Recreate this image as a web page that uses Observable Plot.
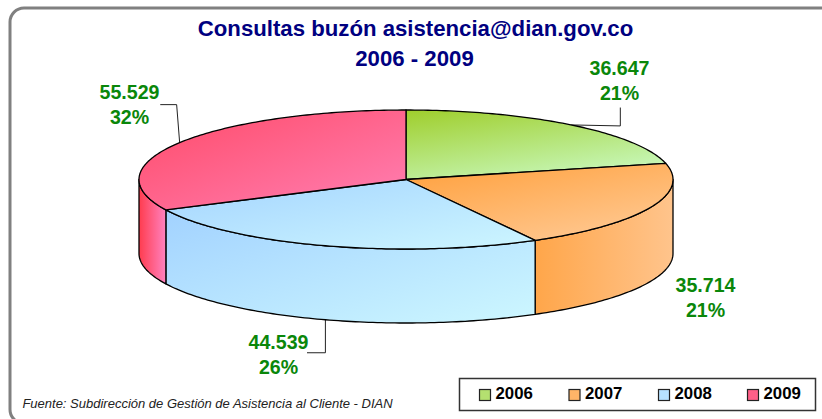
<!DOCTYPE html>
<html><head><meta charset="utf-8">
<script src="https://cdn.jsdelivr.net/npm/d3@7"></script>
<script src="https://cdn.jsdelivr.net/npm/@observablehq/plot@0.6"></script>
<style>html,body{margin:0;padding:0;background:#fff;overflow:hidden}svg{display:block}</style>
</head><body><div id="chart"></div>
<script>
const years = ["2006","2007","2008","2009"];
const consultas = [36647,35714,44539,55529];
const valueLabels = ["36.647","35.714","44.539","55.529"];
const pctLabels = ["21%","21%","26%","32%"];
const titleLines = ["Consultas buzón asistencia@dian.gov.co","2006 - 2009"];
const fuente = "Fuente: Subdirección de Gestión de Asistencia al Cliente - DIAN";

const W=822,H=419,cx=405.5,cy=179,rx=267,ry=69.5,depthPx=74;
const depth=depthPx/ry;
const ARIAL='"Liberation Sans",Arial,sans-serif';

const pie=d3.pie().sort(null)(consultas);
const arc=(a0,a1,dy=0)=>{const n=Math.max(2,Math.ceil((a1-a0)*60)),p=[];
  for(let i=0;i<=n;i++){const t=a0+(a1-a0)*i/n;p.push({x:Math.sin(t),y:-Math.cos(t)+dy});}return p;};
const topFace=s=>[{x:0,y:0},...arc(s.startAngle,s.endAngle)];
const sideFace=s=>{const a0=Math.max(s.startAngle,Math.PI/2),a1=Math.min(s.endAngle,3*Math.PI/2);
  if(a1<=a0)return null;return [...arc(a0,a1),...arc(a0,a1,depth).reverse()];};

const grads={
 t0:["#9fce2c","#c6f6b4",0.55],t1:["#ff9f3a","#ffc78f",0.7],t2:["#a4d4ff","#cdf6ff",1],t3:["#ff4a68","#ff80b4",1],
 s1:["#ffa64a","#ffc48c",0],s2:["#a2d2ff","#cdf7ff",1],s3:["#ff3c4e","#ff82c0",0]
};
const defs=()=>{const d=d3.create("svg:defs");
 for(const [id,[a,b,k]] of Object.entries(grads)){
  const g=d.append("linearGradient").attr("id",id).attr("x1",0).attr("y1",0).attr("x2",k?k:1).attr("y2",k?1:0);
  g.append("stop").attr("offset","0%").attr("stop-color",a);
  g.append("stop").attr("offset","100%").attr("stop-color",b);}
 return d.node();};

const face=(pts,fill)=>Plot.line(pts,{x:"x",y:"y",curve:"linear-closed",fill,stroke:"#000",strokeWidth:1.3,strokeLinejoin:"round"});
const box=(l,t,r,b,o)=>Plot.frame({insetLeft:l,insetTop:t,insetRight:W-r,insetBottom:H-b,...o});
const label=(s,x,y,o)=>Plot.text([s],{text:d=>d,frameAnchor:"top-left",dx:x,dy:y,textAnchor:"middle",lineAnchor:"middle",fontFamily:ARIAL,fontWeight:"bold",...o});

const mid=s=>(s.startAngle+s.endAngle)/2;
const leader=(i,extraDepth,offs)=>{const m=mid(pie[i]),p={x:Math.sin(m),y:-Math.cos(m)+extraDepth};
  return Plot.line([p,...offs.map(([dx,dy])=>({x:p.x+dx/rx,y:p.y+dy/ry}))],{x:"x",y:"y",stroke:"#222",strokeWidth:1});};

const marks=[defs,
 box(9.5,7.5,835,423,{stroke:"#808080",strokeWidth:3,rx:14,ry:14,fill:"#fff"}),
 leader(0,0,[[49,1],[49,-17]]),
 leader(3,0,[[-3,-38],[-19,-38]]),
 leader(2,depth,[[0,33],[-18,33]]),
];
[1,2,3].forEach(i=>{const f=sideFace(pie[i]);if(f)marks.push(face(f,`url(#s${i})`));});
pie.forEach((s,i)=>marks.push(face(topFace(s),`url(#t${i})`)));

const labelPos=[[619,68],[705,285],[278,342],[129,92]];
labelPos.forEach(([x,y],i)=>{
 marks.push(label(valueLabels[i],x,y,{fontSize:19.6,fill:"#0a870a"}));
 marks.push(label(pctLabels[i],x,y+25,{fontSize:19.6,fill:"#0a870a"}));
});
marks.push(label(titleLines[0],415,28,{fontSize:22.2,fill:"#000080"}));
marks.push(label(titleLines[1],414,58,{fontSize:22.2,fill:"#000080"}));
marks.push(label(fuente,207,403,{fontSize:13,fontWeight:"normal",fontStyle:"italic",fill:"#222"}));

marks.push(box(459,378,815,410,{stroke:"#333",strokeWidth:1.5,fill:"#fff"}));
const swFill=["#b4e070","#ffb468","#b8e2ff","#ff5f88"];
[479,568.5,658,747].forEach((x,i)=>{
 marks.push(box(x,389,x+11,400,{fill:swFill[i],stroke:"#222",strokeWidth:1.2}));
 marks.push(label(years[i],x+16,393.5,{fontSize:16.8,fill:"#000",textAnchor:"start"}));
});

const chart=Plot.plot({width:W,height:H,margin:0,
 x:{domain:[-1,1],range:[cx-rx,cx+rx],axis:null},
 y:{domain:[-1,1],range:[cy-ry,cy+ry],axis:null},
 marks});
chart.style.background="#fff";
document.getElementById("chart").append(chart);
</script></body></html>
